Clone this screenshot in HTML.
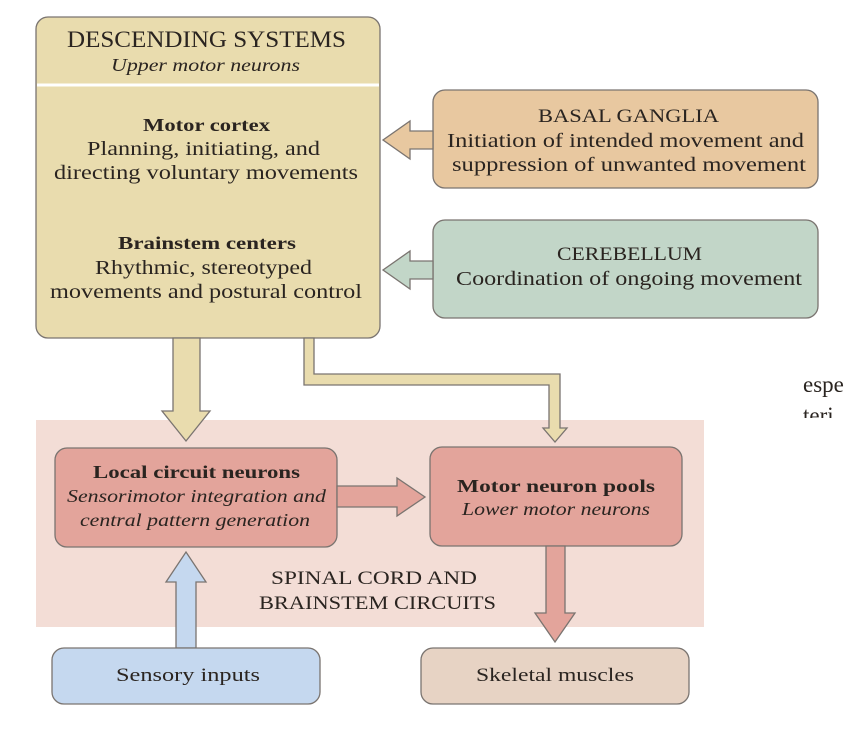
<!DOCTYPE html>
<html><head><meta charset="utf-8"><style>
html,body{margin:0;padding:0;background:#fff;width:854px;height:746px;overflow:hidden}
svg text{font-family:"Liberation Serif",serif;fill:#2a2420}
</style></head><body>
<svg width="854" height="746" viewBox="0 0 854 746" xmlns="http://www.w3.org/2000/svg">
<g stroke="#7a7470" stroke-width="1.3">
<rect x="36" y="420" width="668" height="207" fill="#f3ddd6" stroke="none"/>
<rect x="36" y="17" width="344" height="321" rx="12" fill="#e9dcae"/>
<line x1="37" y1="85" x2="379" y2="85" stroke="#fff" stroke-width="3"/>
<rect x="433" y="90" width="385" height="98" rx="12" fill="#e8c8a0"/>
<rect x="433" y="220" width="385" height="98" rx="12" fill="#c2d6c8"/>
<polygon points="433,131 410,131 410,121 383,140 410,159 410,149 433,149" fill="#e8c8a0"/>
<polygon points="433,261 410,261 410,251 383,270 410,289 410,279 433,279" fill="#c2d6c8"/>
<polygon points="173,338 200,338 200,411 210,411 186,441 162,411 173,411" fill="#e9dcae"/>
<polygon points="304,338 314,338 314,374 560,374 560,428 567,428 555,442 543,428 549,428 549,385 304,385" fill="#e9dcae"/>
<rect x="55" y="448" width="282" height="99" rx="12" fill="#e3a49b"/>
<rect x="430" y="447" width="252" height="99" rx="12" fill="#e3a49b"/>
<polygon points="337,486 397,486 397,478 425,497 397,516 397,507 337,507" fill="#e3a49b"/>
<polygon points="546,546 565,546 565,613 575,613 555,642 535,613 546,613" fill="#e3a49b"/>
<polygon points="176,648 196,648 196,582 206,582 186,552 166,582 176,582" fill="#c5d8ef"/>
<rect x="52" y="648" width="268" height="56" rx="12" fill="#c5d8ef"/>
<rect x="421" y="648" width="268" height="56" rx="12" fill="#e7d3c4"/>
</g>
<g lengthAdjust="spacingAndGlyphs">
<text x="67" y="47" font-size="23" textLength="279" lengthAdjust="spacingAndGlyphs">DESCENDING SYSTEMS</text>
<text x="111" y="71" font-size="18" font-style="italic" textLength="189" lengthAdjust="spacingAndGlyphs">Upper motor neurons</text>
<text x="143" y="131" font-size="18" font-weight="bold" textLength="127" lengthAdjust="spacingAndGlyphs">Motor cortex</text>
<text x="87" y="155" font-size="20" textLength="233" lengthAdjust="spacingAndGlyphs">Planning, initiating, and</text>
<text x="54" y="179" font-size="20" textLength="304" lengthAdjust="spacingAndGlyphs">directing voluntary movements</text>
<text x="118" y="249" font-size="18" font-weight="bold" textLength="178" lengthAdjust="spacingAndGlyphs">Brainstem centers</text>
<text x="95" y="274" font-size="20" textLength="217" lengthAdjust="spacingAndGlyphs">Rhythmic, stereotyped</text>
<text x="50" y="298" font-size="20" textLength="312" lengthAdjust="spacingAndGlyphs">movements and postural control</text>
<text x="538" y="122" font-size="19" textLength="181" lengthAdjust="spacingAndGlyphs">BASAL GANGLIA</text>
<text x="447" y="147" font-size="20" textLength="357" lengthAdjust="spacingAndGlyphs">Initiation of intended movement and</text>
<text x="452" y="171" font-size="20" textLength="354" lengthAdjust="spacingAndGlyphs">suppression of unwanted movement</text>
<text x="557" y="260" font-size="19" textLength="145" lengthAdjust="spacingAndGlyphs">CEREBELLUM</text>
<text x="456" y="285" font-size="20" textLength="346" lengthAdjust="spacingAndGlyphs">Coordination of ongoing movement</text>
<text x="93" y="478" font-size="18" font-weight="bold" textLength="207" lengthAdjust="spacingAndGlyphs">Local circuit neurons</text>
<text x="67" y="502" font-size="18" font-style="italic" textLength="259" lengthAdjust="spacingAndGlyphs">Sensorimotor integration and</text>
<text x="80" y="526" font-size="18" font-style="italic" textLength="230" lengthAdjust="spacingAndGlyphs">central pattern generation</text>
<text x="457" y="492" font-size="18" font-weight="bold" textLength="198" lengthAdjust="spacingAndGlyphs">Motor neuron pools</text>
<text x="462" y="515" font-size="18" font-style="italic" textLength="188" lengthAdjust="spacingAndGlyphs">Lower motor neurons</text>
<text x="271" y="584" font-size="19" textLength="206" lengthAdjust="spacingAndGlyphs">SPINAL CORD AND</text>
<text x="259" y="609" font-size="19" textLength="237" lengthAdjust="spacingAndGlyphs">BRAINSTEM CIRCUITS</text>
<text x="116" y="681" font-size="19" textLength="144" lengthAdjust="spacingAndGlyphs">Sensory inputs</text>
<text x="476" y="681" font-size="19" textLength="158" lengthAdjust="spacingAndGlyphs">Skeletal muscles</text>
</g>
<text x="803" y="392" font-size="23">espe</text>
<clipPath id="c"><rect x="790" y="405" width="64" height="13"/></clipPath>
<text x="803" y="423" font-size="23" clip-path="url(#c)">teri</text>
</svg>
</body></html>
